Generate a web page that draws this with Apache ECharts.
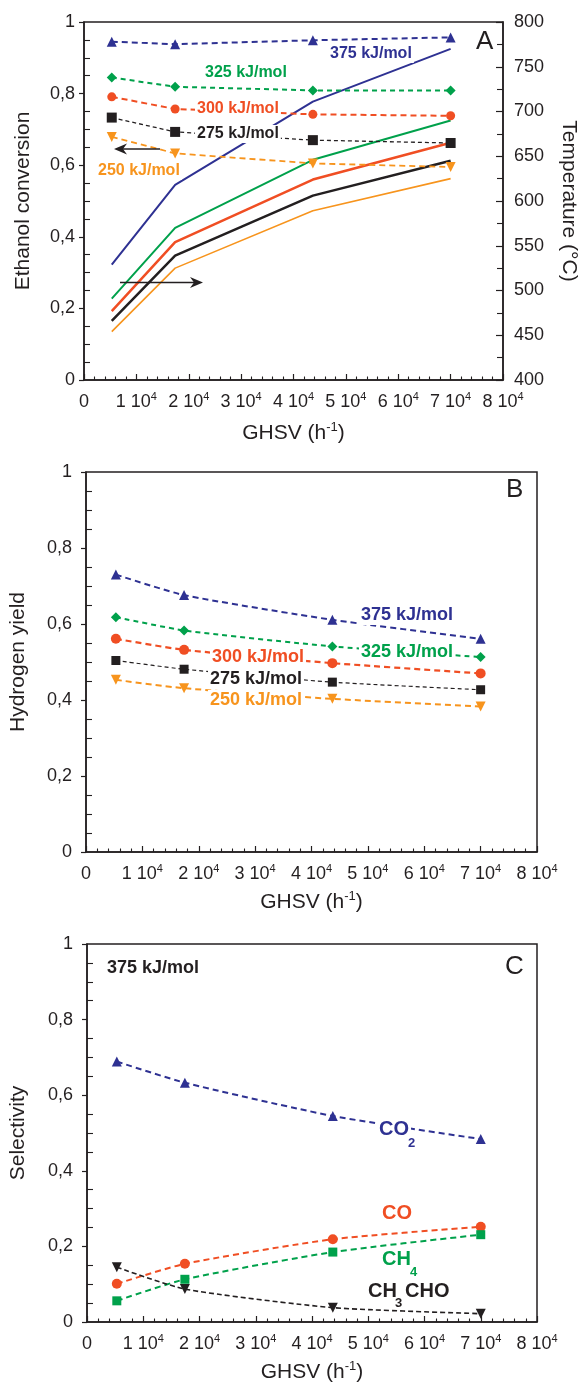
<!DOCTYPE html>
<html>
<head>
<meta charset="utf-8">
<script src="https://cdn.jsdelivr.net/npm/echarts@6/dist/echarts.min.js"></script>
<style>
html,body{margin:0;padding:0;background:#fff;}
#c{width:587px;height:1385px;}
</style>
</head>
<body>
<div id="c"></div>
<script>
// ---------- data ----------
const ghsv = [5300, 17400, 43700, 70000];

// Panel A: ethanol conversion (left axis)
const conv375 = [0.945, 0.938, 0.949, 0.957];
const conv325 = [0.845, 0.819, 0.809, 0.809];
const conv300 = [0.791, 0.757, 0.742, 0.738];
const conv275 = [0.733, 0.693, 0.670, 0.662];
const conv250 = [0.679, 0.633, 0.605, 0.595];
// Panel A: temperature (right axis, °C)
const temp375 = [529, 618, 711, 770];
const temp325 = [491, 570, 646, 690];
const temp300 = [477, 554, 624, 665];
const temp275 = [466, 539, 606, 645];
const temp250 = [454, 525, 589, 625];
// Panel B: hydrogen yield
const h2y375 = [0.730, 0.676, 0.611, 0.561];
const h2y325 = [0.618, 0.583, 0.541, 0.513];
const h2y300 = [0.561, 0.532, 0.497, 0.470];
const h2y275 = [0.504, 0.481, 0.447, 0.427];
const h2y250 = [0.453, 0.431, 0.403, 0.383];
// Panel C: selectivity at 375 kJ/mol
const selCO2 = [0.689, 0.633, 0.545, 0.484];
const selCO = [0.101, 0.154, 0.219, 0.252];
const selCH4 = [0.056, 0.113, 0.185, 0.231];
const selCH3CHO = [0.145, 0.087, 0.038, 0.022];

// ---------- style ----------
const FONT = "'Liberation Sans', Arial, Helvetica, sans-serif";
const AX = '#231f20';
const BLUE = '#2e3192', GREEN = '#00a14b', RED = '#f04e23', BLACK = '#231f20', ORANGE = '#f7941d';

const pts = arr => ghsv.map((x, i) => [x, arr[i]]);
const decFmt = v => v === 0 ? '0' : (v === 1 ? '1' : v.toFixed(1).replace('.', ','));

function xAxisDef(gi, nameGap) {
  return {
    type: 'value', gridIndex: gi, min: 0, max: 80000, interval: 10000,
    axisLine: { lineStyle: { color: AX, width: 1.5 } },
    axisTick: { inside: true, length: 6, lineStyle: { color: AX, width: 1.2 } },
    minorTick: { show: true, splitNumber: 5, length: 3.5, lineStyle: { color: AX, width: 1.1 } },
    splitLine: { show: false },
    axisLabel: {
      margin: 11, color: AX,
      formatter: v => v === 0 ? '{a|0}' : '{a|' + (v / 10000) + ' 10}{s|4}',
      rich: {
        a: { fontSize: 18, fontFamily: FONT, color: AX, lineHeight: 22 },
        s: { fontSize: 11, fontFamily: FONT, color: AX, verticalAlign: 'top', lineHeight: 12 }
      }
    },
    name: '{a|GHSV (h}{s|-1}{a|)}', nameLocation: 'middle', nameGap: nameGap,
    nameTextStyle: {
      rich: {
        a: { fontSize: 21, fontFamily: FONT, color: AX, lineHeight: 24 },
        s: { fontSize: 13, fontFamily: FONT, color: AX, verticalAlign: 'top', lineHeight: 12 }
      }
    }
  };
}
function yAxisLeft(gi, name, nameGap, margin) {
  return {
    type: 'value', gridIndex: gi, position: 'left', min: 0, max: 1, interval: 0.2,
    axisLine: { show: true, lineStyle: { color: AX, width: 1.5 } },
    axisTick: { show: true, inside: false, length: 5, lineStyle: { color: AX, width: 1.2 } },
    minorTick: { show: false },
    splitLine: { show: false },
    axisLabel: { margin: margin, color: AX, fontSize: 18, fontFamily: FONT, formatter: decFmt },
    name: name, nameLocation: 'middle', nameGap: nameGap,
    nameTextStyle: { fontSize: 21, fontFamily: FONT, color: AX }
  };
}
// companion axis drawing only the inner minor ticks of a left axis
function yAxisMinor(gi) {
  return {
    type: 'value', gridIndex: gi, position: 'left', min: 0, max: 1, interval: 0.2,
    axisLine: { show: false }, axisLabel: { show: false },
    axisTick: { show: false, inside: true },
    minorTick: { show: true, splitNumber: 4, length: 6, lineStyle: { color: AX, width: 1.1 } },
    splitLine: { show: false }
  };
}

function dashed(name, xi, yi, arr, color, symbol, size, width, dash, rotate, smooth) {
  return {
    name, type: 'line', xAxisIndex: xi, yAxisIndex: yi, data: pts(arr),
    symbol, symbolSize: size, symbolRotate: rotate || 0, smooth: smooth || false,
    lineStyle: { color, width, type: dash },
    itemStyle: { color, borderWidth: 0 }, z: 3
  };
}
function solid(name, arr, color, width) {
  return {
    name, type: 'line', xAxisIndex: 0, yAxisIndex: 1, data: pts(arr),
    symbol: 'none', lineStyle: { color, width }, z: 2
  };
}

function txt(text, x, y, color, size, bold, bg) {
  return {
    type: 'text', z: 100, x: x, y: y,
    style: {
      text: text, fill: color,
      font: (bold ? 'bold ' : '') + size + 'px ' + FONT,
      textAlign: 'left', textVerticalAlign: 'middle',
      backgroundColor: bg ? '#fff' : null, padding: bg ? [1, 2, 1, 2] : 0
    }
  };
}
function arrow(x1, x2, y) {
  const dir = x2 > x1 ? 1 : -1;
  const L = 13, W = 5.5, N = 4;
  return [
    { type: 'polyline', z: 100, shape: { points: [[x1, y], [x2 - dir * 6, y]] }, style: { stroke: BLACK, lineWidth: 1.5 } },
    { type: 'polygon', z: 100, shape: { points: [[x2, y], [x2 - dir * L, y - W], [x2 - dir * (L - N), y], [x2 - dir * L, y + W]] }, style: { fill: BLACK } }
  ];
}

const SM = 0.2;
const option = {
  animation: false,
  backgroundColor: '#fff',
  textStyle: { fontFamily: FONT },
  grid: [
    { left: 84, top: 22, width: 428, height: 358, show: true, borderColor: AX, borderWidth: 1.5, backgroundColor: 'transparent' },
    { left: 85, top: 472, width: 452, height: 380, show: true, borderColor: AX, borderWidth: 1.5, backgroundColor: 'transparent' },
    { left: 85, top: 944, width: 452, height: 378, show: true, borderColor: AX, borderWidth: 1.5, backgroundColor: 'transparent' }
  ],
  xAxis: [xAxisDef(0, 41), xAxisDef(1, 38), xAxisDef(2, 38)],
  yAxis: [
    yAxisLeft(0, 'Ethanol conversion', 50, 9),
    {
      type: 'value', gridIndex: 0, position: 'right', min: 400, max: 800, interval: 50,
      axisLine: { show: true, lineStyle: { color: AX, width: 1.5 } },
      axisTick: { show: true, inside: true, length: 7, lineStyle: { color: AX, width: 1.2 } },
      minorTick: { show: true, splitNumber: 2, length: 6, lineStyle: { color: AX, width: 1.1 } },
      splitLine: { show: false },
      axisLabel: { margin: 11, color: AX, fontSize: 18, fontFamily: FONT },
      name: 'Temperature (°C)', nameLocation: 'middle', nameGap: 55, nameRotate: -90,
      nameTextStyle: { fontSize: 21, fontFamily: FONT, color: AX }
    },
    yAxisLeft(1, 'Hydrogen yield', 57, 14),
    yAxisLeft(2, 'Selectivity', 58, 14),
    yAxisMinor(0), yAxisMinor(1), yAxisMinor(2)
  ],
  series: [
    solid('T 375', temp375, BLUE, 2),
    solid('T 325', temp325, GREEN, 2),
    solid('T 300', temp300, RED, 2.5),
    solid('T 275', temp275, BLACK, 2.5),
    solid('T 250', temp250, ORANGE, 1.6),
    dashed('X 375', 0, 0, conv375, BLUE, 'triangle', 10, 2, [6, 4]),
    dashed('X 325', 0, 0, conv325, GREEN, 'diamond', 10, 2, [5, 4]),
    dashed('X 300', 0, 0, conv300, RED, 'circle', 9, 2, [6, 4]),
    dashed('X 275', 0, 0, conv275, BLACK, 'rect', 10, 1.3, [4, 3]),
    dashed('X 250', 0, 0, conv250, ORANGE, 'triangle', 10, 1.8, [6, 4], 180),

    dashed('H 375', 1, 2, h2y375, BLUE, 'triangle', 10, 2, [6, 4], 0, SM),
    dashed('H 325', 1, 2, h2y325, GREEN, 'diamond', 10, 2, [5, 4], 0, SM),
    dashed('H 300', 1, 2, h2y300, RED, 'circle', 10, 2.2, [6, 4], 0, SM),
    dashed('H 275', 1, 2, h2y275, BLACK, 'rect', 9, 1.2, [4, 3], 0, SM),
    dashed('H 250', 1, 2, h2y250, ORANGE, 'triangle', 10, 2, [6, 4], 180, SM),

    dashed('CO2', 2, 3, selCO2, BLUE, 'triangle', 10, 2, [6, 4], 0, SM),
    dashed('CO', 2, 3, selCO, RED, 'circle', 10, 2, [6, 4], 0, SM),
    dashed('CH4', 2, 3, selCH4, GREEN, 'rect', 9, 2, [6, 4], 0, SM),
    dashed('CH3CHO', 2, 3, selCH3CHO, BLACK, 'triangle', 10, 1.6, [5, 3], 180, SM)
  ],
  graphic: [
    txt('A', 476, 42, AX, 26, false, false),
    txt('B', 506, 490, AX, 26, false, false),
    txt('C', 505, 967, AX, 26, false, false),

    txt('375 kJ/mol', 328, 54, BLUE, 16, true, true),
    txt('325 kJ/mol', 203, 72.5, GREEN, 16, true, true),
    txt('300 kJ/mol', 195, 109, RED, 16, true, true),
    txt('275 kJ/mol', 195, 134, BLACK, 16, true, true),
    txt('250 kJ/mol', 96, 171, ORANGE, 16, true, true),
    ...arrow(160, 114, 149),
    ...arrow(120, 203, 282.5),

    txt('375 kJ/mol', 359, 615, BLUE, 18, true, true),
    txt('325 kJ/mol', 359, 652, GREEN, 18, true, true),
    txt('300 kJ/mol', 210, 657, RED, 18, true, true),
    txt('275 kJ/mol', 208, 679, BLACK, 18, true, true),
    txt('250 kJ/mol', 208, 700, ORANGE, 18, true, true),

    txt('375 kJ/mol', 107, 968, BLACK, 18, true, false),
    txt('CO', 377, 1129, BLUE, 20, true, true),
    txt('2', 408, 1143, BLUE, 13, true, false),
    txt('CO', 380, 1213, RED, 20, true, true),
    txt('CH', 380, 1259, GREEN, 20, true, true),
    txt('4', 410, 1272, GREEN, 13, true, false),
    txt('CH', 366, 1291, BLACK, 20, true, true),
    txt('3', 395, 1303, BLACK, 13, true, false),
    txt('CHO', 403, 1291, BLACK, 20, true, true)
  ]
};

const chart = echarts.init(document.getElementById('c'), null, { renderer: 'canvas' });
chart.setOption(option);
</script>
</body>
</html>
